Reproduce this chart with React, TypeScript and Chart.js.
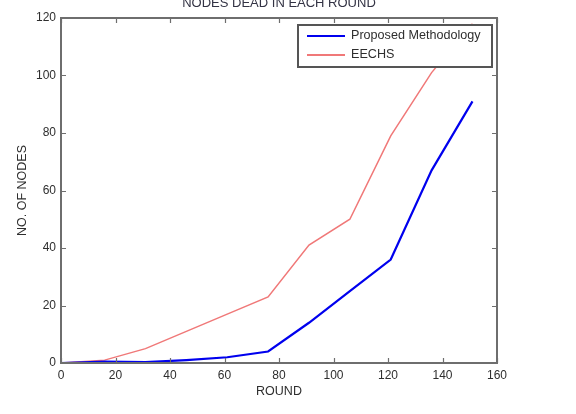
import React, { useEffect, useRef } from "react";
import { Chart, registerables } from "chart.js";

Chart.register(...registerables);

const rounds = [0, 16, 31, 46, 61, 76, 91, 106, 121, 136, 151];
const proposed = [0, 0.5, 0.3, 1, 2, 4, 14, 25, 36, 67, 91];
const eechs = [0, 1, 5, 11, 17, 23, 41, 50, 79, 101, 118];
const xTicks = [0, 20, 40, 60, 80, 100, 120, 140, 160];
const yTicks = [0, 20, 40, 60, 80, 100, 120];
const seriesNames = ["Proposed Methodology", "EECHS"];
const seriesColors = ["#0000ee", "#f07878"];
const chartTitle = "NODES DEAD IN EACH ROUND";

const FONT = "'Liberation Sans', Arial, sans-serif";

const framePlugin = {
  id: "frame",
  afterDatasetsDraw(chart: any) {
    const { ctx, chartArea } = chart;
    const { left, right, top, bottom } = chartArea;
    const xs = chart.scales.x;
    const ys = chart.scales.y;
    ctx.save();
    ctx.strokeStyle = "#6e6e6e";
    ctx.lineWidth = 2;
    ctx.strokeRect(left, top, right - left, bottom - top);
    ctx.lineWidth = 1.2;
    ctx.beginPath();
    const tl = 5;
    xTicks.forEach((v) => {
      const px = Math.round(xs.getPixelForValue(v)) + 0.5;
      ctx.moveTo(px, bottom);
      ctx.lineTo(px, bottom - tl);
      ctx.moveTo(px, top);
      ctx.lineTo(px, top + tl);
    });
    yTicks.forEach((v) => {
      const py = Math.round(ys.getPixelForValue(v)) + 0.5;
      ctx.moveTo(left, py);
      ctx.lineTo(left + tl, py);
      ctx.moveTo(right, py);
      ctx.lineTo(right - tl, py);
    });
    ctx.stroke();

    // legend box
    const bw = 194;
    const bh = 42;
    const bx = right - 5 - bw;
    const by = top + 7;
    ctx.fillStyle = "#ffffff";
    ctx.fillRect(bx, by, bw, bh);
    ctx.strokeStyle = "#555555";
    ctx.lineWidth = 2;
    ctx.strokeRect(bx, by, bw, bh);
    ctx.font = "12.6px " + FONT;
    ctx.textBaseline = "middle";
    ctx.textAlign = "left";
    seriesNames.forEach((name, i) => {
      const ly = by + 11 + i * 19;
      ctx.strokeStyle = seriesColors[i];
      ctx.lineWidth = i === 0 ? 1.8 : 2;
      ctx.beginPath();
      ctx.moveTo(bx + 9, ly);
      ctx.lineTo(bx + 47, ly);
      ctx.stroke();
      ctx.fillStyle = "#2e2e2e";
      ctx.fillText(name, bx + 53, ly);
    });

    // title
    ctx.font = "13px " + FONT;
    ctx.textAlign = "center";
    ctx.textBaseline = "alphabetic";
    ctx.fillStyle = "#333344";
    ctx.fillText(chartTitle, (left + right) / 2, 7);
    ctx.restore();
  },
};

export default function App() {
  const ref = useRef<HTMLCanvasElement | null>(null);
  useEffect(() => {
    if (!ref.current) return;
    const chart = new Chart(ref.current, {
      type: "line",
      data: {
        datasets: [
          {
            label: seriesNames[0],
            data: rounds.map((r, i) => ({ x: r, y: proposed[i] })),
            borderColor: seriesColors[0],
            borderWidth: 2.2,
            pointRadius: 0,
            tension: 0,
          },
          {
            label: seriesNames[1],
            data: rounds.map((r, i) => ({ x: r, y: eechs[i] })),
            borderColor: seriesColors[1],
            borderWidth: 1.5,
            pointRadius: 0,
            tension: 0,
          },
        ],
      },
      options: {
        responsive: false,
        animation: false,
        layout: { padding: { top: 18, right: 79, left: 0, bottom: 0 } },
        plugins: {
          legend: { display: false },
          title: { display: false },
          tooltip: { enabled: false },
        },
        scales: {
          x: {
            type: "linear",
            min: 0,
            max: 160,
            afterFit: (s: any) => {
              s.height = 51;
            },
            afterBuildTicks: (s: any) => {
              s.ticks = xTicks.map((v) => ({ value: v }));
            },
            grid: { display: false, drawTicks: false },
            border: { display: false },
            ticks: {
              padding: 5,
              color: "#2e2e2e",
              font: { family: FONT, size: 12 },
              maxRotation: 0,
            },
            title: {
              display: true,
              text: "ROUND",
              color: "#2e2e2e",
              font: { family: FONT, size: 12.5 },
              padding: { top: 0, bottom: 15 },
            },
          },
          y: {
            type: "linear",
            min: 0,
            max: 120,
            afterFit: (s: any) => {
              s.width = 61;
            },
            afterBuildTicks: (s: any) => {
              s.ticks = yTicks.map((v) => ({ value: v }));
            },
            grid: { display: false, drawTicks: false },
            border: { display: false },
            ticks: {
              padding: 5,
              color: "#2e2e2e",
              font: { family: FONT, size: 12 },
            },
            title: {
              display: true,
              text: "NO. OF NODES",
              color: "#2e2e2e",
              font: { family: FONT, size: 12.5 },
              padding: { top: 15, bottom: 0 },
            },
          },
        },
      },
      plugins: [framePlugin],
    } as any);
    return () => chart.destroy();
  }, []);
  return (
    <div style={{ position: "fixed", left: 0, top: 0, width: 576, height: 414, background: "#fff" }}>
      <canvas ref={ref} width={576} height={414} style={{ display: "block" }} />
    </div>
  );
}
